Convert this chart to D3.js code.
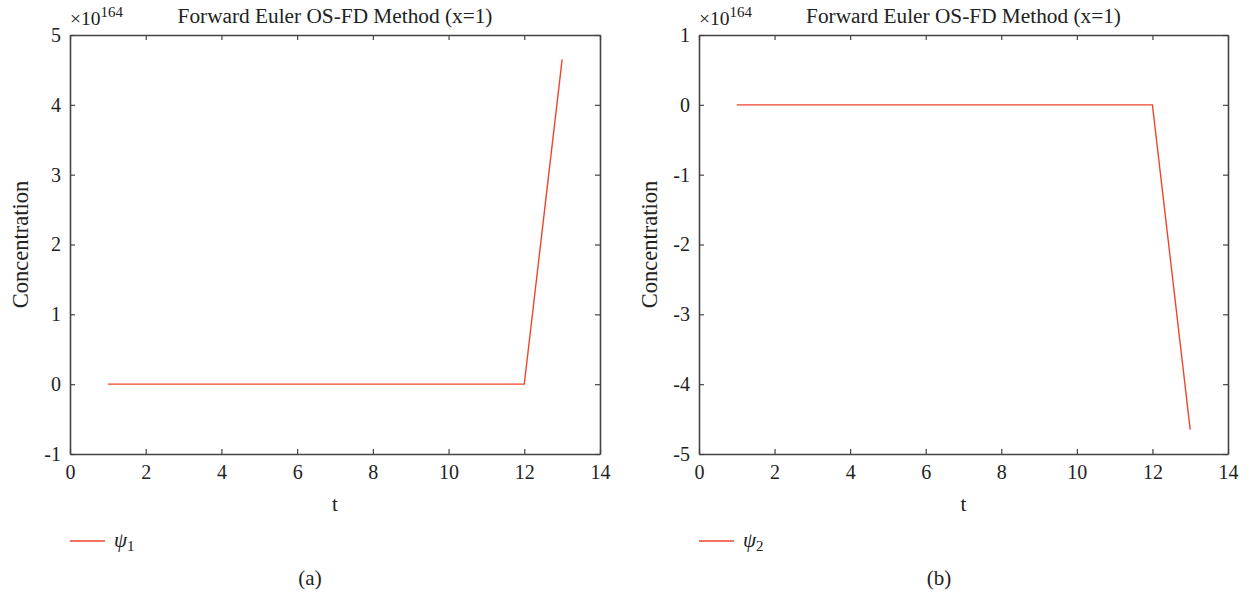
<!DOCTYPE html>
<html><head><meta charset="utf-8">
<script src="https://cdn.jsdelivr.net/npm/d3@7"></script>
<style>body{margin:0;background:#fff}svg{display:block}text{font-family:"Liberation Serif","DejaVu Serif",serif;fill:#222}</style>
</head><body>
<svg id="c" width="1251" height="604"></svg>
<script>
const tValues = [1,2,3,4,5,6,7,8,9,10,11,12,13];
const psi1 = [0,0,0,0,0,0,0,0,0,0,0,0,4.65];
const psi2 = [0,0,0,0,0,0,0,0,0,0,0,0,-4.65];
const xTicks = [0,2,4,6,8,10,12,14];
const yTicksA = [-1,0,1,2,3,4,5];
const yTicksB = [-5,-4,-3,-2,-1,0,1];
const titleText = "Forward Euler OS-FD Method (x=1)";
const exponentText = "164";
(function(){
const panels = [
  {left:70, right:600, data:psi1, yDomain:[-1,5], yTicks:yTicksA, sub:"1", cap:"(a)"},
  {left:699, right:1228, data:psi2, yDomain:[-5,1], yTicks:yTicksB, sub:"2", cap:"(b)"}
];
const plotTop = 35, plotBottom = 454;
const svg = d3.select("#c");
const axisCol = "#444", lineCol = "#f0452a";
panels.forEach(p => {
  const x = d3.scaleLinear().domain([0,14]).range([p.left,p.right]);
  const y = d3.scaleLinear().domain(p.yDomain).range([plotBottom,plotTop]);
  const g = svg.append("g");
  const tl = 5;
  const mk = (axis, tr) => {
    const a = g.append("g").attr("transform", tr).call(axis);
    a.attr("font-size", null).attr("font-family", null);
    a.select(".domain").attr("stroke", axisCol).attr("stroke-width", 1.6);
    a.selectAll(".tick line").attr("stroke", axisCol).attr("stroke-width", 1.2);
    a.selectAll("text").style("font-family",'"Liberation Serif",serif').style("font-size","20px").attr("fill","#222");
    return a;
  };
  mk(d3.axisBottom(x).tickValues(xTicks).tickSize(-tl).tickPadding(11).tickSizeOuter(0), `translate(0,${plotBottom})`);
  mk(d3.axisTop(x).tickValues(xTicks).tickSize(-tl).tickFormat("").tickSizeOuter(0), `translate(0,${plotTop})`);
  mk(d3.axisLeft(y).tickValues(p.yTicks).tickSize(-tl).tickPadding(9).tickSizeOuter(0).tickFormat(d=>String(d)), `translate(${p.left},0)`);
  mk(d3.axisRight(y).tickValues(p.yTicks).tickSize(-tl).tickFormat("").tickSizeOuter(0), `translate(${p.right},0)`);
  const line = d3.line().x((d,i)=>x(tValues[i])).y(d=>y(d));
  g.append("path").datum(p.data).attr("d", line).attr("fill","none").attr("stroke", lineCol).attr("stroke-width",1.4);
  const cx = (p.left+p.right)/2;
  g.append("text").attr("x", cx).attr("y", 23).attr("text-anchor","middle").style("font-size","21.3px").text(titleText);
  const ex = g.append("text").attr("x", p.left).attr("y", 25).style("font-size","19.5px");
  ex.append("tspan").text("×10");
  ex.append("tspan").attr("dy",-8).style("font-size","15px").text(exponentText);
  g.append("text").attr("transform", `translate(${p.left-42},${(plotTop+plotBottom)/2}) rotate(-90)`).attr("text-anchor","middle").style("font-size","22.5px").text("Concentration");
  g.append("text").attr("x", cx).attr("y", 511).attr("text-anchor","middle").style("font-size","21px").text("t");
  g.append("line").attr("x1", p.left).attr("x2", p.left+35).attr("y1", 541).attr("y2", 541).attr("stroke", lineCol).attr("stroke-width",1.4);
  const lt = g.append("text").attr("x", p.left+44).attr("y", 547).style("font-size","21px");
  lt.append("tspan").style("font-style","italic").text("ψ");
  lt.append("tspan").attr("dy",4).style("font-size","15px").text(p.sub);
  g.append("text").attr("x", p.left+240).attr("y", 585).attr("text-anchor","middle").style("font-size","21px").text(p.cap);
});
})();
</script>
</body></html>
